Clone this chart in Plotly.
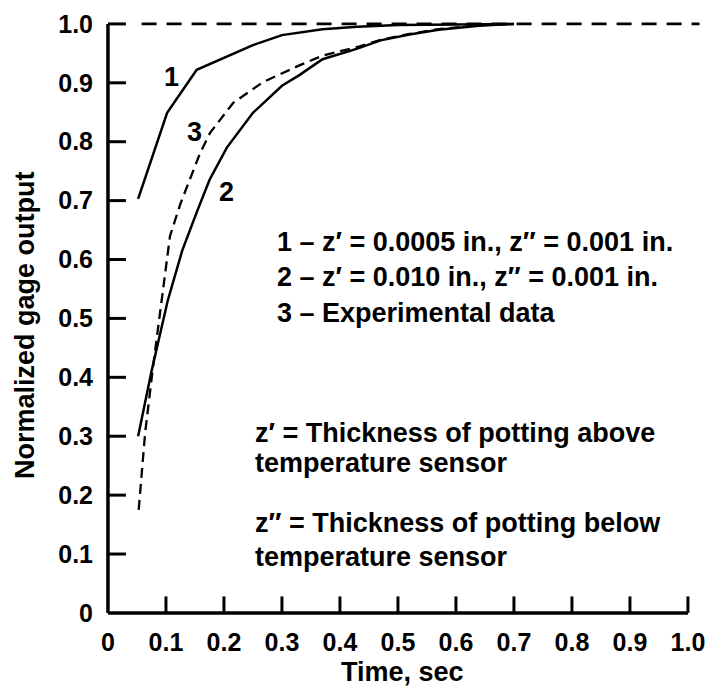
import plotly.graph_objects as go

# Response of a potted surface-temperature gage: normalized output vs time
time_1 = [0.052, 0.102, 0.153, 0.193, 0.25, 0.30, 0.33, 0.37, 0.43, 0.50, 0.60, 0.70]
gage_1 = [0.703, 0.849, 0.922, 0.939, 0.964, 0.981, 0.985, 0.991, 0.995, 0.998, 0.999, 1.0]

time_2 = [0.052, 0.075, 0.103, 0.128, 0.153, 0.175, 0.205, 0.25, 0.30, 0.33, 0.37, 0.43,
          0.47, 0.52, 0.57, 0.64, 0.70]
gage_2 = [0.300, 0.410, 0.530, 0.615, 0.680, 0.735, 0.790, 0.849, 0.895, 0.913, 0.940, 0.958,
          0.972, 0.982, 0.990, 0.997, 1.0]

time_3 = [0.053, 0.064, 0.078, 0.092, 0.107, 0.125, 0.159, 0.176, 0.216, 0.267, 0.331, 0.37,
          0.434, 0.47, 0.52, 0.57, 0.64, 0.70]
gage_3 = [0.175, 0.305, 0.420, 0.530, 0.640, 0.695, 0.781, 0.815, 0.866, 0.901, 0.930, 0.946,
          0.962, 0.973, 0.983, 0.991, 0.998, 1.0]

# steady-state reference level
ref_time = [0.058, 1.02]
ref_gage = [1.0, 1.0]

x_ticks = [0, 0.1, 0.2, 0.3, 0.4, 0.5, 0.6, 0.7, 0.8, 0.9, 1.0]
x_labels = ["0", "0.1", "0.2", "0.3", "0.4", "0.5", "0.6", "0.7", "0.8", "0.9", "1.0"]
y_ticks = [0, 0.1, 0.2, 0.3, 0.4, 0.5, 0.6, 0.7, 0.8, 0.9, 1.0]
y_labels = ["0", "0.1", "0.2", "0.3", "0.4", "0.5", "0.6", "0.7", "0.8", "0.9", "1.0"]

TICK_FONT = dict(family="Liberation Sans, Arial", size=25, color="black")
TEXT_FONT = dict(family="Liberation Sans, Arial", size=27, color="black")

fig = go.Figure()
fig.add_trace(go.Scatter(x=time_1, y=gage_1, mode="lines",
                         line=dict(color="black", width=2.5)))
fig.add_trace(go.Scatter(x=time_2, y=gage_2, mode="lines",
                         line=dict(color="black", width=2.5)))
fig.add_trace(go.Scatter(x=time_3, y=gage_3, mode="lines",
                         line=dict(color="black", width=2.3, dash="10px,6px")))
fig.add_trace(go.Scatter(x=ref_time, y=ref_gage, mode="lines",
                         line=dict(color="black", width=2.6, dash="15px,10px")))

# axis frame (left and bottom) with inward ticks
shapes = [
    dict(type="line", xref="x", yref="y", x0=0, y0=0, x1=x_ticks[-1], y1=0,
         line=dict(color="black", width=3.5)),
    dict(type="line", xref="x", yref="y", x0=0, y0=0, x1=0, y1=y_ticks[-1],
         line=dict(color="black", width=3.5)),
]
for t in x_ticks[1:]:
    shapes.append(dict(type="line", xref="x", yref="y", x0=t, x1=t, y0=0, y1=0.028,
                       line=dict(color="black", width=3)))
for t in y_ticks[1:]:
    shapes.append(dict(type="line", xref="x", yref="y", x0=0, x1=0.031, y0=t, y1=t,
                       line=dict(color="black", width=3)))

annotations = [
    dict(x=0.110, y=0.910, text="<b>1</b>"),
    dict(x=0.150, y=0.817, text="<b>3</b>"),
    dict(x=0.205, y=0.715, text="<b>2</b>"),
]
for a in annotations:
    a.update(xref="x", yref="y", showarrow=False, font=TEXT_FONT)

legend_lines = [
    (0.288, 0.630, "1 – z′ = 0.0005 in., z″ = 0.001 in."),
    (0.288, 0.570, "2 – z′ = 0.010 in., z″ = 0.001 in."),
    (0.288, 0.509, "3 – Experimental data"),
    (0.250, 0.306, "z′ = Thickness of potting above"),
    (0.250, 0.255, "temperature sensor"),
    (0.250, 0.153, "z″ = Thickness of potting below"),
    (0.250, 0.095, "temperature sensor"),
]
for x, y, txt in legend_lines:
    annotations.append(dict(x=x, y=y, xref="x", yref="y", text=f"<b>{txt}</b>",
                            xanchor="left", yanchor="middle", showarrow=False,
                            font=TEXT_FONT))

# axis titles
annotations.append(dict(x=0.5, y=0, xref="x domain", yref="paper", yshift=-52,
                        text="<b>Time, sec</b>", showarrow=False, xanchor="center",
                        yanchor="middle", font=TEXT_FONT))
annotations.append(dict(x=0, y=0.5, xref="paper", yref="y domain", xshift=-76, yshift=-12,
                        text="<b>Normalized gage output</b>", showarrow=False,
                        textangle=-90, xanchor="center", yanchor="middle", font=TEXT_FONT))

fig.update_layout(
    width=709, height=695,
    margin=dict(l=101, r=5, t=6, b=75),
    paper_bgcolor="white", plot_bgcolor="white",
    showlegend=False,
    shapes=shapes, annotations=annotations,
    xaxis=dict(range=[-0.012, 1.0277], tickvals=x_ticks, ticktext=[f"<b>{s}</b>" for s in x_labels],
               showgrid=False, zeroline=False, showline=False, ticks="",
               tickfont=TICK_FONT, ticklabelstandoff=5),
    yaxis=dict(range=[-0.012, 1.0304], tickvals=y_ticks, ticktext=[f"<b>{s}</b>" for s in y_labels],
               showgrid=False, zeroline=False, showline=False, ticks="",
               tickfont=TICK_FONT, ticklabelstandoff=7),
)

fig.write_html("out.html")
